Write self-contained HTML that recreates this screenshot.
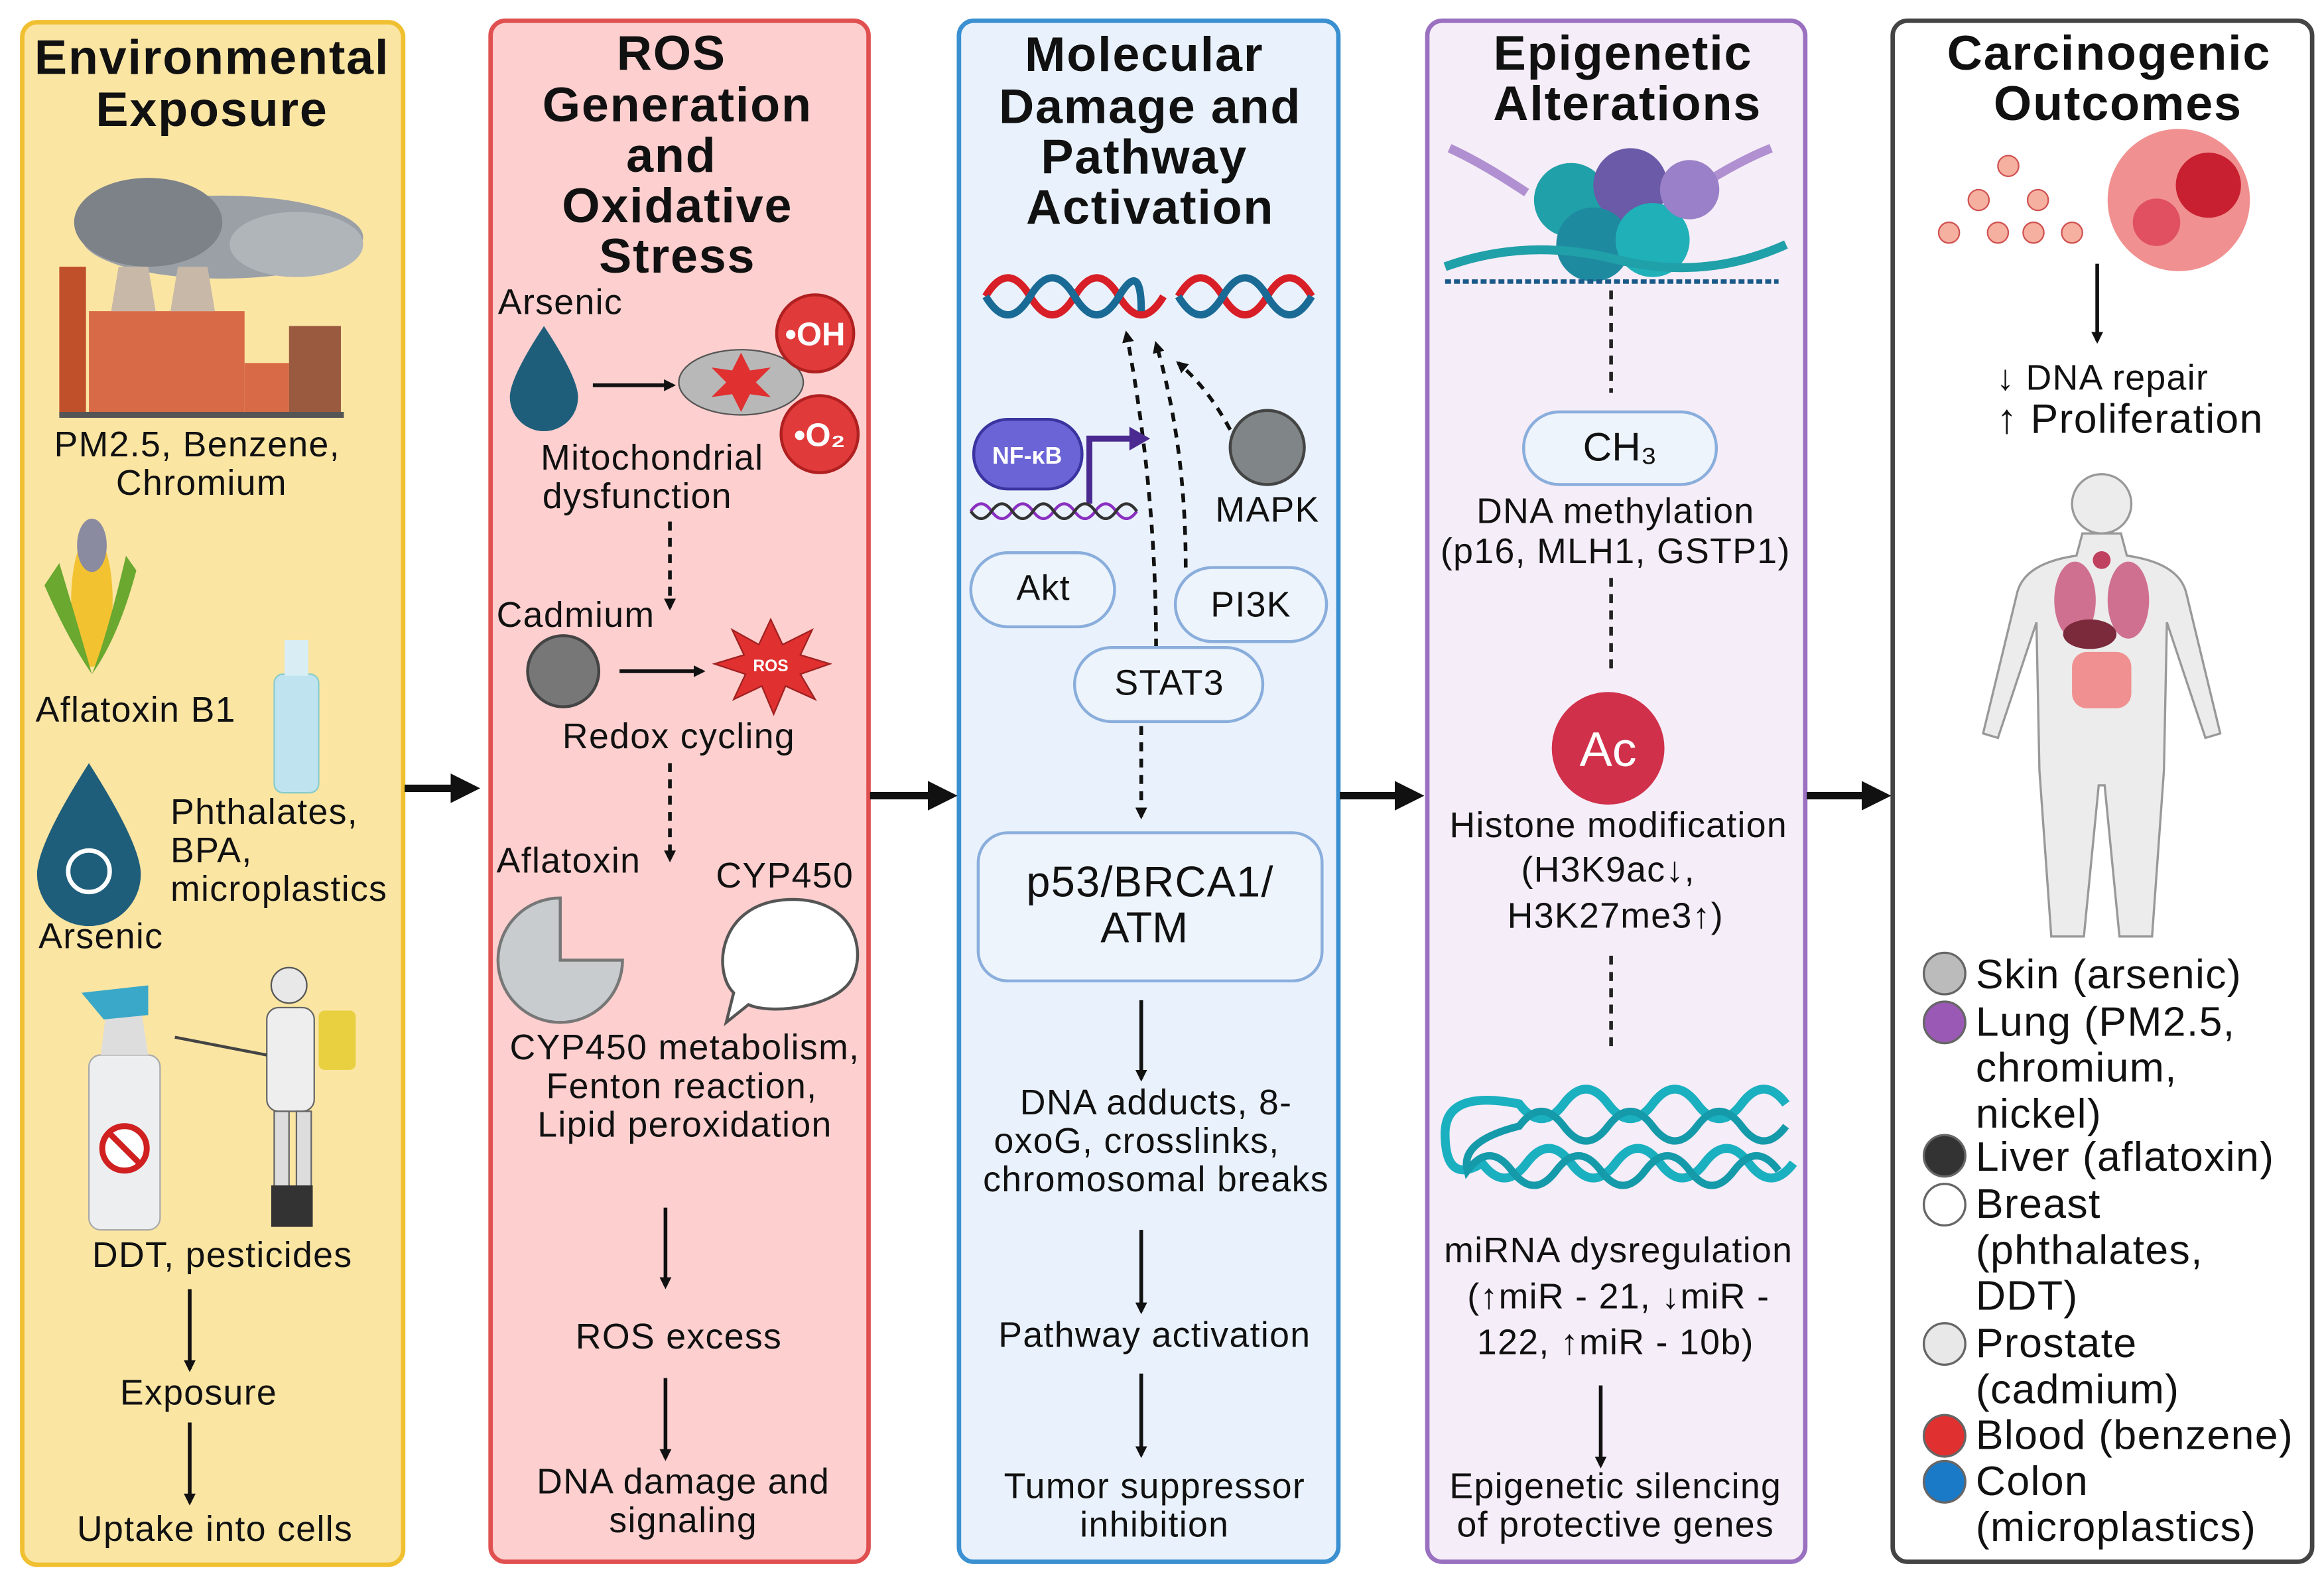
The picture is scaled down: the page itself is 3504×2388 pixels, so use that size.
<!DOCTYPE html>
<html><head><meta charset="utf-8"><style>
html,body{margin:0;padding:0;background:#fff;}
svg{display:block;}
text{font-family:"Liberation Sans",Arial,sans-serif;fill:#111;}
.t{font-weight:bold;font-size:33px;letter-spacing:0.8px;text-anchor:middle;}
.b{font-size:24px;letter-spacing:0.6px;}
.c{text-anchor:middle;}
.l{font-size:28px;letter-spacing:0.6px;}
</style></head><body>
<svg width="3504" height="2388" viewBox="0 0 1568 1069" preserveAspectRatio="none" xmlns="http://www.w3.org/2000/svg">
<defs>
<marker id="ah" markerWidth="8" markerHeight="8" refX="6" refY="4" orient="auto" markerUnits="userSpaceOnUse"><path d="M0,0 L8,4 L0,8 z" fill="#111"/></marker>
<marker id="ah2" markerWidth="20" markerHeight="20" refX="14" refY="10" orient="auto" markerUnits="userSpaceOnUse"><path d="M0,0 L20,10 L0,20 z" fill="#111"/></marker>
</defs>
<rect width="1568" height="1069" fill="#fff"/>
<rect x="15" y="15" width="257" height="1041" rx="10" fill="#fbe5a3" stroke="#f0c030" stroke-width="3"/>
<rect x="331" y="14" width="255" height="1040" rx="10" fill="#fdcfcf" stroke="#e05050" stroke-width="3"/>
<rect x="647" y="14" width="256" height="1040" rx="10" fill="#e9f2fc" stroke="#3a90d0" stroke-width="3"/>
<rect x="963" y="14" width="255" height="1040" rx="10" fill="#f5edf8" stroke="#9a70c0" stroke-width="3"/>
<rect x="1277" y="14" width="283" height="1040" rx="10" fill="#fff" stroke="#444" stroke-width="3"/>
<g stroke="#111" stroke-width="5">
<line x1="273" y1="532" x2="318" y2="532" marker-end="url(#ah2)"/>
<line x1="587" y1="537" x2="640" y2="537" marker-end="url(#ah2)"/>
<line x1="904" y1="537" x2="955" y2="537" marker-end="url(#ah2)"/>
<line x1="1219" y1="537" x2="1270" y2="537" marker-end="url(#ah2)"/>
</g>

<text class="t" x="143" y="50">Environmental</text>
<text class="t" x="143" y="85">Exposure</text>
<ellipse cx="150" cy="160" rx="95" ry="28" fill="#9aa0a6"/>
<ellipse cx="100" cy="150" rx="50" ry="30" fill="#7c8288"/>
<ellipse cx="200" cy="165" rx="45" ry="22" fill="#b0b5ba"/>
<rect x="40" y="180" width="18" height="100" fill="#c0502a"/>
<rect x="60" y="210" width="105" height="70" fill="#d86a48"/>
<path d="M75,210 L80,180 L100,180 L105,210z M115,210 L120,180 L140,180 L145,210z" fill="#c8b8a8"/>
<rect x="165" y="245" width="30" height="35" fill="#d86a48"/>
<rect x="195" y="220" width="35" height="60" fill="#9a5a40"/>
<rect x="40" y="278" width="192" height="4" fill="#555"/>
<text class="b c" x="133" y="308">PM2.5, Benzene,</text>
<text class="b c" x="136" y="334">Chromium</text>
<ellipse cx="62" cy="405" rx="14" ry="45" fill="#f2c230"/>
<path d="M40,380 Q55,430 62,455 Q45,430 30,395z M85,375 Q72,430 62,455 Q80,430 92,385z" fill="#6aa830"/>
<ellipse cx="62" cy="368" rx="10" ry="18" fill="#8a8aa0"/>
<text class="b" x="24" y="487">Aflatoxin B1</text>
<rect x="185" y="455" width="30" height="80" rx="6" fill="#bfe4f0" stroke="#8cc" />
<rect x="192" y="432" width="16" height="24" fill="#d8eef4"/>
<path d="M60,515 Q95,570 95,590 A35,35 0 0 1 25,590 Q25,570 60,515z" fill="#1f5e7a"/>
<circle cx="60" cy="588" r="14" fill="none" stroke="#fff" stroke-width="3"/>
<text class="b" x="115" y="556">Phthalates,</text>
<text class="b" x="115" y="582">BPA,</text>
<text class="b" x="115" y="608">microplastics</text>
<text class="b" x="26" y="640">Arsenic</text>
<rect x="60" y="712" width="48" height="118" rx="8" fill="#eceef0" stroke="#aaa"/>
<path d="M68,712 L72,680 L95,680 L100,712z" fill="#ddd"/>
<path d="M55,670 L100,665 L100,685 L70,688z" fill="#3aa8c8"/>
<circle cx="84" cy="775" r="15" fill="#fff" stroke="#d02020" stroke-width="4"/>
<line x1="74" y1="765" x2="94" y2="785" stroke="#d02020" stroke-width="4"/>
<circle cx="195" cy="665" r="12" fill="#e8e8e8" stroke="#555"/>
<rect x="180" y="680" width="32" height="70" rx="8" fill="#eee" stroke="#666"/>
<rect x="215" y="682" width="25" height="40" rx="4" fill="#e8d040"/>
<rect x="185" y="750" width="10" height="70" fill="#ddd" stroke="#666"/>
<rect x="200" y="750" width="10" height="70" fill="#ddd" stroke="#666"/>
<rect x="183" y="800" width="28" height="28" fill="#333"/>
<line x1="118" y1="700" x2="180" y2="712" stroke="#444" stroke-width="2"/>
<text class="b c" x="150" y="855">DDT, pesticides</text>
<g stroke="#111" stroke-width="2.5">
<line x1="128" y1="870" x2="128" y2="924" marker-end="url(#ah)"/>
<line x1="128" y1="960" x2="128" y2="1014" marker-end="url(#ah)"/>
<line x1="449" y1="815" x2="449" y2="868" marker-end="url(#ah)"/>
<line x1="449" y1="930" x2="449" y2="984" marker-end="url(#ah)"/>
<line x1="770" y1="675" x2="770" y2="728" marker-end="url(#ah)"/>
<line x1="770" y1="830" x2="770" y2="885" marker-end="url(#ah)"/>
<line x1="770" y1="927" x2="770" y2="982" marker-end="url(#ah)"/>
<line x1="1080" y1="935" x2="1080" y2="989" marker-end="url(#ah)"/>
<line x1="1415" y1="178" x2="1415" y2="230" marker-end="url(#ah)"/>
<line x1="400" y1="260" x2="454" y2="260" marker-end="url(#ah)"/>
<line x1="418" y1="453" x2="474" y2="453" marker-end="url(#ah)"/>
</g>
<text class="b c" x="134" y="948">Exposure</text>
<text class="b c" x="145" y="1040">Uptake into cells</text>

<text class="t" x="453" y="47">ROS</text>
<text class="t" x="457" y="82">Generation</text>
<text class="t" x="453" y="116">and</text>
<text class="t" x="457" y="150">Oxidative</text>
<text class="t" x="457" y="184">Stress</text>
<text class="b" x="336" y="212">Arsenic</text>
<path d="M367,220 Q390,255 390,268 A23,23 0 0 1 344,268 Q344,255 367,220z" fill="#1f5e7a"/>
<ellipse cx="500" cy="258" rx="42" ry="22" fill="#b8b8b8" stroke="#555"/>
<polygon points="500,238 506,250 520,248 510,258 520,268 506,266 500,278 494,266 480,268 490,258 480,248 494,250" fill="#e03030"/>
<circle cx="550" cy="225" r="26" fill="#e03a3a" stroke="#b02020" stroke-width="2"/>
<text x="550" y="233" class="c" style="font-size:22px;font-weight:bold;fill:#fff">•OH</text>
<circle cx="553" cy="293" r="26" fill="#e03a3a" stroke="#b02020" stroke-width="2"/>
<text x="553" y="301" class="c" style="font-size:22px;font-weight:bold;fill:#fff">•O₂</text>
<text class="b c" x="440" y="317">Mitochondrial</text>
<text class="b c" x="430" y="343">dysfunction</text>
<g stroke="#111" stroke-width="2.5" stroke-dasharray="6,5" fill="none">
<line x1="452" y1="352" x2="452" y2="410" marker-end="url(#ah)"/>
<line x1="452" y1="515" x2="452" y2="580" marker-end="url(#ah)"/>
<line x1="770" y1="490" x2="770" y2="551" marker-end="url(#ah)"/>
<path d="M780,437 Q780,330 760,225" marker-end="url(#ah)"/>
<path d="M800,383 Q800,300 780,232" marker-end="url(#ah)"/>
<path d="M830,290 Q815,262 795,245" marker-end="url(#ah)"/>
</g>
<text class="b" x="335" y="423">Cadmium</text>
<circle cx="380" cy="453" r="24" fill="#777" stroke="#444" stroke-width="2"/>
<polygon points="520,418 528,435 548,425 540,442 560,448 540,455 550,472 530,463 522,482 514,463 495,472 503,455 482,448 502,442 494,425 512,435" fill="#e03030" stroke="#a02020"/>
<text x="520" y="453" class="c" style="font-size:11px;font-weight:bold;fill:#fff">ROS</text>
<text class="b c" x="458" y="505">Redox cycling</text>
<text class="b" x="335" y="589">Aflatoxin</text>
<text class="b" x="483" y="599">CYP450</text>
<path d="M378,648 L378,606 A42,42 0 1 0 420,648 z" fill="#c8cccf" stroke="#777" stroke-width="2"/>
<path d="M535,607 C575,607 585,640 575,660 C565,680 520,685 505,678 L490,690 L495,670 C480,655 485,607 535,607z" fill="#fff" stroke="#555" stroke-width="2"/>
<text class="b c" x="462" y="715">CYP450 metabolism,</text>
<text class="b c" x="460" y="741">Fenton reaction,</text>
<text class="b c" x="462" y="767">Lipid peroxidation</text>
<text class="b c" x="458" y="910">ROS excess</text>
<text class="b c" x="461" y="1008">DNA damage and</text>
<text class="b c" x="461" y="1034">signaling</text>

<text class="t" x="772" y="48">Molecular</text>
<text class="t" x="776" y="83">Damage and</text>
<text class="t" x="772" y="117">Pathway</text>
<text class="t" x="776" y="151">Activation</text>
<path d="M665,200 q15,-25 30,0 t30,0 t30,0 t30,0 M795,200 q15,-25 30,0 t30,0 t30,0" stroke="#d81e26" stroke-width="5" fill="none"/>
<path d="M665,200 q15,25 30,0 t30,0 t30,0 t15,10 M795,200 q15,25 30,0 t30,0 t30,0" stroke="#1a6a96" stroke-width="5" fill="none"/>
<rect x="657" y="283" width="73" height="47" rx="23" fill="#6a64d6" stroke="#3a34a0" stroke-width="2"/>
<text x="693" y="313" class="c" style="font-size:16px;font-weight:bold;fill:#fff">NF-κB</text>
<path d="M735,340 L735,296 L765,296" stroke="#4a2a90" stroke-width="4" fill="none"/>
<polygon points="762,288 776,296 762,304" fill="#4a2a90"/>
<path d="M655,345 q7,-10 14,0 t14,0 t14,0 t14,0 t14,0 t14,0 t14,0 t14,0" stroke="#8a30c0" stroke-width="2" fill="none"/>
<path d="M655,345 q7,10 14,0 t14,0 t14,0 t14,0 t14,0 t14,0 t14,0 t14,0" stroke="#333" stroke-width="2" fill="none"/>
<circle cx="855" cy="302" r="25" fill="#808688" stroke="#444" stroke-width="2"/>
<text class="b" x="820" y="352">MAPK</text>
<g fill="#eef4fc" stroke="#8aaedc" stroke-width="2">
<rect x="655" y="373" width="97" height="50" rx="25"/>
<rect x="793" y="383" width="102" height="50" rx="25"/>
<rect x="725" y="437" width="127" height="50" rx="25"/>
<rect x="660" y="562" width="232" height="100" rx="20"/>
</g>
<text class="b c" x="704" y="405">Akt</text>
<text class="b c" x="844" y="416">PI3K</text>
<text class="b c" x="789" y="469">STAT3</text>
<text class="c" x="776" y="605" style="font-size:29px;letter-spacing:0.6px">p53/BRCA1/</text>
<text class="c" x="772" y="636" style="font-size:29px">ATM</text>
<text class="b c" x="780" y="752">DNA adducts, 8-</text>
<text class="b c" x="767" y="778">oxoG, crosslinks,</text>
<text class="b c" x="780" y="804">chromosomal breaks</text>
<text class="b c" x="779" y="909">Pathway activation</text>
<text class="b c" x="779" y="1011">Tumor suppressor</text>
<text class="b c" x="779" y="1037">inhibition</text>

<text class="t" x="1095" y="47">Epigenetic</text>
<text class="t" x="1098" y="81">Alterations</text>
<path d="M978,100 Q1000,110 1030,130 M1140,130 Q1170,110 1195,100" stroke="#b090d0" stroke-width="6" fill="none"/>
<circle cx="1060" cy="135" r="25" fill="#20a0a8"/><circle cx="1100" cy="125" r="25" fill="#6a5aa8"/>
<circle cx="1075" cy="165" r="25" fill="#1e8aa0"/><circle cx="1115" cy="162" r="25" fill="#20b0b8"/>
<circle cx="1140" cy="128" r="20" fill="#9a80c8"/>
<path d="M975,180 Q1030,160 1090,175 T1205,165" stroke="#20a0a8" stroke-width="6" fill="none"/>
<path d="M975,190 L1200,190" stroke="#1a5a8a" stroke-width="3" stroke-dasharray="4,2"/>
<g stroke="#222" stroke-width="2.5" stroke-dasharray="6,5">
<line x1="1087" y1="196" x2="1087" y2="265"/>
<line x1="1087" y1="390" x2="1087" y2="455"/>
<line x1="1087" y1="645" x2="1087" y2="710"/>
</g>
<rect x="1028" y="278" width="130" height="49" rx="24" fill="#eef4fc" stroke="#8aaedc" stroke-width="2"/>
<text class="c" x="1093" y="311" style="font-size:27px">CH₃</text>
<text class="b c" x="1090" y="353">DNA methylation</text>
<text class="b c" x="1090" y="380">(p16, MLH1, GSTP1)</text>
<circle cx="1085" cy="505" r="38" fill="#d0304a"/>
<text class="c" x="1085" y="517" style="font-size:33px;fill:#fff">Ac</text>
<text class="b c" x="1092" y="565">Histone modification</text>
<text class="b c" x="1085" y="595">(H3K9ac↓,</text>
<text class="b c" x="1090" y="626">H3K27me3↑)</text>
<path d="M1205,745 q-15,-20 -30,0 t-30,0 t-30,0 t-30,0 t-30,0 t-30,0 Q975,735 975,765 Q975,800 1000,785 q15,20 30,0 t30,0 t30,0 t30,0 t30,0 t30,0 t30,0" stroke="#1ab0c0" stroke-width="6" fill="none"/>
<path d="M1205,760 q-15,20 -30,0 t-30,0 t-30,0 t-30,0 t-30,0 t-30,0 Q985,770 990,790 q15,-20 30,0 t30,0 t30,0 t30,0 t30,0 t30,0 t30,0" stroke="#159aaa" stroke-width="5" fill="none"/>
<text class="b c" x="1092" y="852">miRNA dysregulation</text>
<text class="b c" x="1092" y="883">(↑miR -  21, ↓miR -</text>
<text class="b c" x="1090" y="914">122, ↑miR - 10b)</text>
<text class="b c" x="1090" y="1011">Epigenetic silencing</text>
<text class="b c" x="1090" y="1037">of protective genes</text>

<text class="t" x="1423" y="47">Carcinogenic</text>
<text class="t" x="1429" y="81">Outcomes</text>
<g fill="#f6b0a0" stroke="#d05050" stroke-width="1">
<circle cx="1355" cy="112" r="7"/><circle cx="1335" cy="135" r="7"/><circle cx="1375" cy="135" r="7"/>
<circle cx="1315" cy="157" r="7"/><circle cx="1348" cy="157" r="7"/><circle cx="1372" cy="157" r="7"/><circle cx="1398" cy="157" r="7"/>
</g>
<circle cx="1470" cy="135" r="48" fill="#f09090"/>
<circle cx="1490" cy="125" r="22" fill="#c82030"/><circle cx="1455" cy="150" r="16" fill="#e05060"/>
<text class="b" x="1347" y="263">↓ DNA repair</text>
<text x="1347" y="292" style="font-size:28px;letter-spacing:0.6px">↑ Proliferation</text>
<g fill="#ececec" stroke="#999" stroke-width="1.5">
<circle cx="1418" cy="340" r="20"/>
<path d="M1405,360 L1431,360 L1435,375 Q1470,380 1475,400 L1498,495 L1488,498 L1462,420 L1460,520 L1452,632 L1430,632 L1420,530 L1416,530 L1406,632 L1384,632 L1376,520 L1374,420 L1348,498 L1338,495 L1361,400 Q1366,380 1401,375z"/>
</g>
<ellipse cx="1400" cy="405" rx="14" ry="26" fill="#d07090"/><ellipse cx="1436" cy="405" rx="14" ry="26" fill="#d07090"/>
<ellipse cx="1410" cy="428" rx="18" ry="10" fill="#7a2a3a"/>
<rect x="1398" y="440" width="40" height="38" rx="10" fill="#f09090"/>
<circle cx="1418" cy="378" r="6" fill="#c04060"/>
<g stroke="#666" stroke-width="1.5">
<circle cx="1312" cy="657" r="14" fill="#bbb"/>
<circle cx="1312" cy="690" r="14" fill="#9b59b6"/>
<circle cx="1312" cy="780" r="14" fill="#333"/>
<circle cx="1312" cy="813" r="14" fill="#fff"/>
<circle cx="1312" cy="907" r="14" fill="#e8e8e8"/>
<circle cx="1312" cy="969" r="14" fill="#e03030"/>
<circle cx="1312" cy="1000" r="14" fill="#1a7ac8"/>
</g>
<text class="l" x="1333" y="667">Skin (arsenic)</text>
<text class="l" x="1333" y="699">Lung (PM2.5,</text>
<text class="l" x="1333" y="730">chromium,</text>
<text class="l" x="1333" y="761">nickel)</text>
<text class="l" x="1333" y="790">Liver (aflatoxin)</text>
<text class="l" x="1333" y="822">Breast</text>
<text class="l" x="1333" y="853">(phthalates,</text>
<text class="l" x="1333" y="884">DDT)</text>
<text class="l" x="1333" y="916">Prostate</text>
<text class="l" x="1333" y="947">(cadmium)</text>
<text class="l" x="1333" y="978">Blood (benzene)</text>
<text class="l" x="1333" y="1009">Colon</text>
<text class="l" x="1333" y="1040">(microplastics)</text>
</svg>
</body></html>
